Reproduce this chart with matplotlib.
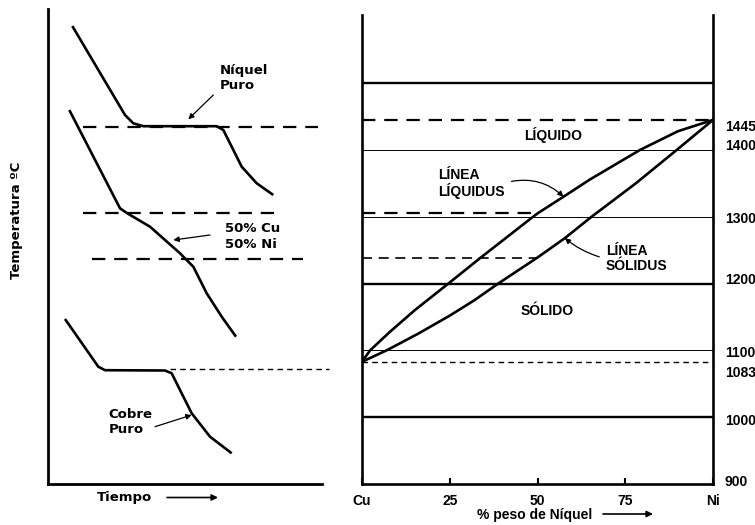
import matplotlib
matplotlib.use("Agg")
import matplotlib.pyplot as plt
from matplotlib.transforms import ScaledTranslation

# ---------------- data ----------------
# Left panel: cooling curves (arbitrary time / temperature units)
ni_time = [24.0, 76.7, 85.0, 95.0, 168.4, 175.0, 183.4, 193.4, 208.4, 225.0]
ni_temp = [457.5, 368.5, 360.2, 357.3, 357.3, 353.5, 336.8, 316.8, 300.2, 288.5]
ni_plateau = 356.8

mix_time = [21.0, 71.7, 79.0, 101.7, 131.7, 135.0, 145.0, 158.4, 173.4, 187.7]
mix_temp = [373.5, 275.2, 270.2, 256.8, 230.2, 226.8, 216.8, 190.2, 166.8, 146.8]
mix_liq, mix_sol = 270.8, 224.5

cu_time = [16.7, 50.0, 56.7, 116.7, 123.4, 131.7, 143.4, 161.7, 183.4]
cu_temp = [164.5, 116.8, 113.3, 113.0, 110.2, 93.5, 70.2, 46.8, 30.2]
cu_plateau = 114.5

# Right panel: Cu-Ni phase diagram
liq_comp = [0, 2.3, 8, 15, 24.6, 34.1, 48, 50, 57.4, 65, 79.2, 90, 100]
liq_temp = [1083, 1100, 1128, 1160, 1200, 1240, 1297, 1305, 1330, 1356, 1400, 1428, 1445]
sol_comp = [0, 7, 16, 25, 32, 38.8, 50, 57.8, 65.4, 78, 89.2, 100]
sol_temp = [1083, 1100, 1125, 1152, 1175, 1200, 1239, 1268, 1300, 1350, 1398, 1445]

thick_levels = [1000, 1200, 1500]
thin_levels = [1100, 1300, 1400]
T_Ni, T_Cu = 1445, 1083
x_ticks = [0, 25, 50, 75, 100]
x_labels = ["Cu", "25", "50", "75", "Ni"]
y_ticks = [900, 1000, 1083, 1100, 1200, 1300, 1400, 1445]
y_labels = [str(v) for v in y_ticks]
# small vertical nudges of the right-hand labels (pixels, positive = down)
y_label_nudge = [-4, 2, 10, 1, -5, 1, -5, 6]

# ---------------- figure ----------------
W, H = 755, 525
fig = plt.figure(figsize=(W / 100, H / 100), dpi=100)
fig.patch.set_facecolor("white")

LF = "DejaVu Sans"
RF = "Liberation Sans"

# ---- left panel ----
ax1 = fig.add_axes([48.3 / W, (H - 483.5) / H, (322 - 48.3) / W, (483.5 - 9) / H])
ax1.set_xlim(0, 273.7)
ax1.set_ylim(0, 474.5)
for s in ["top", "right"]:
    ax1.spines[s].set_visible(False)
for s in ["left", "bottom"]:
    ax1.spines[s].set_linewidth(2.0)
ax1.set_xticks([])
ax1.set_yticks([])

curve_kw = dict(color="black", lw=1.9, solid_capstyle="butt", solid_joinstyle="round")
ax1.plot(ni_time, ni_temp, **curve_kw)
ax1.plot(mix_time, mix_temp, **curve_kw)
ax1.plot(cu_time, cu_temp, **curve_kw)

ax1.plot([35, 270], [ni_plateau] * 2, color="black", lw=1.6, dashes=(6, 4), clip_on=False)
ax1.plot([34.4, 235], [mix_liq] * 2, color="black", lw=1.6, dashes=(6, 4), clip_on=False)
ax1.plot([43.4, 255], [mix_sol] * 2, color="black", lw=1.6, dashes=(6, 4), clip_on=False)
ax1.plot([121.7, 280.7], [cu_plateau] * 2, color="black", lw=1.0, dashes=(4, 3), clip_on=False)

tkw = dict(family=LF, fontweight="bold", fontsize=9.5, ha="left", va="center", linespacing=1.25)
ax1.text(171.7, 405.5, "Níquel\nPuro", **tkw)
ax1.text(176.7, 246.8, "50% Cu\n50% Ni", **tkw)
ax1.text(60.0, 61.5, "Cobre\nPuro", **tkw)
akw = dict(arrowstyle="-|>", lw=0.9, color="black", mutation_scale=8, shrinkA=0, shrinkB=0)
ax1.annotate("", xy=(140, 364.2), xytext=(165, 388.5), arrowprops=akw)
ax1.annotate("", xy=(125, 243.5), xytext=(161.7, 248.5), arrowprops=akw)
ax1.annotate("", xy=(143.4, 68.5), xytext=(106.7, 56.8), arrowprops=akw)

fig.text(16.7 / W, 1 - 220 / H, "Temperatura ºC", rotation=90, ha="center", va="center",
         family=LF, fontweight="bold", fontsize=9.5)
fig.text(124.5 / W, 1 - 497 / H, "Tiempo", ha="center", va="center",
         family=LF, fontweight="bold", fontsize=9.5)
fig.add_artist(matplotlib.patches.FancyArrowPatch(
    (167 / W, 1 - 497.5 / H), (218 / W, 1 - 497.5 / H), transform=fig.transFigure,
    arrowstyle="-|>", mutation_scale=9, lw=1.2, color="black", shrinkA=0, shrinkB=0))

# ---- right panel ----
ax2 = fig.add_axes([362 / W, (H - 484) / H, (713 - 362) / W, (484 - 15) / H])
ax2.set_xlim(0, 100)
ax2.set_ylim(900, 1602)
ax2.spines["top"].set_visible(False)
for s in ["left", "right", "bottom"]:
    ax2.spines[s].set_linewidth(1.9)

for lv in thick_levels:
    ax2.axhline(lv, color="black", lw=1.7)
for lv in thin_levels:
    ax2.axhline(lv, color="black", lw=0.7)
ax2.axhline(T_Ni, color="black", lw=1.6, dashes=(6, 4))
ax2.axhline(T_Cu, color="black", lw=1.0, dashes=(4, 3))
liq50 = liq_temp[liq_comp.index(50)]
sol50 = sol_temp[sol_comp.index(50)]
ax2.plot([0, 50], [liq50] * 2, color="black", lw=1.6, dashes=(6, 4))
ax2.plot([0, 50], [sol50] * 2, color="black", lw=1.2, dashes=(6, 4))

ax2.plot(liq_comp, liq_temp, color="black", lw=1.9, solid_joinstyle="round")
ax2.plot(sol_comp, sol_temp, color="black", lw=1.9, solid_joinstyle="round")

ax2.set_xticks(x_ticks)
ax2.set_xticklabels(x_labels, family=RF, fontweight="bold", fontsize=10)
ax2.tick_params(axis="x", direction="in", length=4, width=1.5, pad=7)
ax2.yaxis.tick_right()
ax2.set_yticks(y_ticks)
ax2.set_yticklabels(y_labels, family=RF, fontweight="bold", fontsize=10)
ax2.tick_params(axis="y", length=0, pad=8.5)
for lab, dy in zip(ax2.get_yticklabels(), y_label_nudge):
    lab.set_transform(lab.get_transform() + ScaledTranslation(0, -dy / 100, fig.dpi_scale_trans))

rkw = dict(family=RF, fontweight="bold", fontsize=10, linespacing=1.1)
ax2.text(54.4, 1422, "LÍQUIDO", ha="center", va="center", **rkw)
ax2.text(52.8, 1159, "SÓLIDO", ha="center", va="center", **rkw)
ax2.text(21.7, 1350, "LÍNEA\nLÍQUIDUS", ha="left", va="center", **rkw)
ax2.text(69.5, 1237, "LÍNEA\nSÓLIDUS", ha="left", va="center", **rkw)
ax2.annotate("", xy=(57.4, 1330), xytext=(42.6, 1353),
             arrowprops=dict(arrowstyle="-|>", lw=0.9, color="black", mutation_scale=8,
                             shrinkA=0, shrinkB=0, connectionstyle="arc3,rad=-0.25"))
ax2.annotate("", xy=(57.8, 1268), xytext=(67.6, 1240),
             arrowprops=dict(arrowstyle="-|>", lw=0.9, color="black", mutation_scale=8,
                             shrinkA=0, shrinkB=0, connectionstyle="arc3,rad=-0.1"))

fig.text(534.5 / W, 1 - 515 / H, "% peso de Níquel", ha="center", va="center",
         family=RF, fontweight="bold", fontsize=10)
fig.add_artist(matplotlib.patches.FancyArrowPatch(
    (603 / W, 1 - 514 / H), (653 / W, 1 - 514 / H), transform=fig.transFigure,
    arrowstyle="-|>", mutation_scale=9, lw=1.2, color="black", shrinkA=0, shrinkB=0))

fig.savefig("out.png", dpi=100, facecolor="white")
